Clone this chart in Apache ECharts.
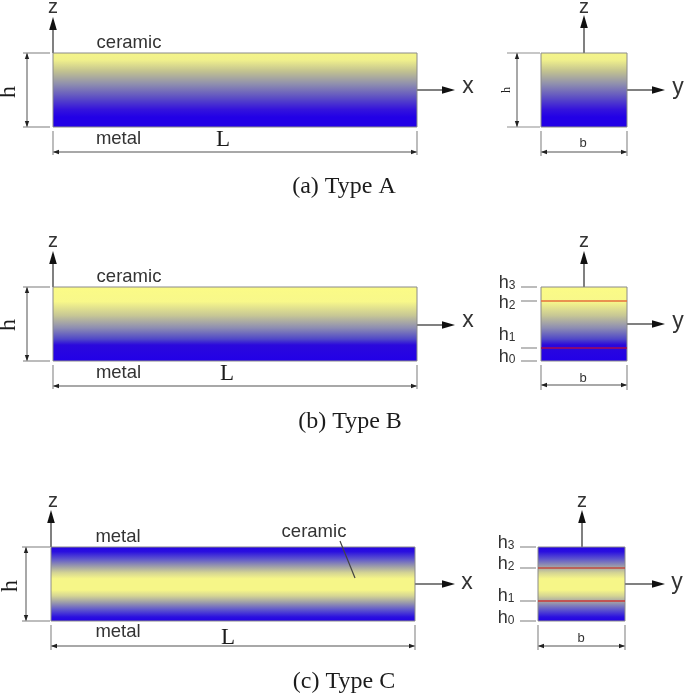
<!DOCTYPE html>
<html><head><meta charset="utf-8">
<style>html,body{margin:0;padding:0;background:#fff}#c{width:685px;height:695px;filter:blur(0.7px)}</style>
<script src="https://cdn.jsdelivr.net/npm/echarts@6/dist/echarts.min.js"></script>
</head><body><div id="c"></div>
<script>
// Diagram coordinates: x1, x2, y1, y2, gradient name
var sections = [
  [53,417,53,127,'A'],[541,627,53,127,'A'],
  [53,417,287,361,'B'],[541,627,287,361,'B'],
  [51,415,547,621,'C'],[538,625,547,621,'C']
];
var gradients = {
  A: [[0,'#f5f58a'],[0.1,'#f0f08c'],[0.25,'#c2c290'],[0.42,'#8f8fae'],[0.6,'#5d4fc4'],[0.76,'#3413dc'],[0.86,'#2200e6'],[1,'#2200e6']],
  B: [[0,'#fbfb86'],[0.2,'#f8f88a'],[0.38,'#c9c994'],[0.55,'#8e8eb2'],[0.7,'#5048c8'],[0.78,'#2a08dc'],[1,'#2200e8']],
  C: [[0,'#2200e6'],[0.07,'#2a10e0'],[0.17,'#6058cc'],[0.27,'#a0a0a8'],[0.35,'#d4d494'],[0.43,'#f6f688'],[0.58,'#f6f688'],[0.66,'#d4d494'],[0.74,'#a0a0a8'],[0.84,'#6058cc'],[0.94,'#2a10e0'],[1,'#2200e6']]
};
var thinLines = [
  [23,53,50,53],[23,127,50,127],[53,131,53,155],[417,131,417,155],
  [507,53,540,53],[507,127,540,127],[541,131,541,156],[627,131,627,156],
  [23,287,50,287],[23,361,50,361],[53,365,53,389],[417,365,417,389],
  [521,287,537,287],[521,301,537,301],[521,348,537,348],[521,361,537,361],[541,365,541,390],[627,365,627,390],
  [22,547,50,547],[22,621,50,621],[51,625,51,650],[415,625,415,650],
  [520,547,536,547],[520,568,536,568],[520,601,536,601],[520,621,536,621],[538,625,538,650],[625,625,625,650]
];
var leaderLines = [[340,541,355,578]];
var redLines = [
  [541,301,627,301,'#e4703c'],[541,348,627,348,'#a80c50'],
  [538,568,625,568,'#c04a40'],[538,601,625,601,'#c83838']
];
var axisArrows = [
  [53,53,53,17],[417,90,455,90],[584,53,584,15],[627,90,665,90],
  [53,287,53,251],[417,325,455,325],[584,287,584,251],[627,324,665,324],
  [51,547,51,510],[415,584,455,584],[582,547,582,510],[625,584,665,584]
];
var dimArrows = [
  [27,53,27,127],[53,152,417,152],[517,53,517,127],[541,152,627,152],
  [27,287,27,361],[53,386,417,386],[541,385,627,385],
  [26,547,26,621],[51,646,415,646],[538,646,625,646]
];
var labels = [
  ['z',53,7,'s',20],['x',468,87,'s',23],['z',584,7,'s',20],['y',678,88,'s',23],
  ['ceramic',129,43,'s',18.5],['metal',118.5,139,'s',18.5],['L',223,140,'t',23],['h',9,92,'r',24],
  ['h',507,90,'r',12],['b',583,143,'s',13],['(a) Type A',344,187,'t',24],
  ['z',53,241,'s',20],['x',468,321,'s',23],['z',584,241,'s',20],['y',678,322,'s',23],
  ['ceramic',129,277,'s',18.5],['metal',118.5,373,'s',18.5],['L',227,374,'t',23],['h',9,325,'r',24],
  ['b',583,378,'s',13],['(b) Type B',350,422,'t',24],
  ['z',53,501,'s',20],['x',467,583,'s',23],['z',582,501,'s',20],['y',677,583,'s',23],
  ['metal',118,537,'s',18.5],['ceramic',314,532,'s',18.5],['metal',118,632,'s',18.5],['L',228,638,'t',23],['h',11,586,'r',24],
  ['b',581,638,'s',13],['(c) Type C',344,682,'t',24]
];
var subLabels = [
  ['3',507,283],['2',507,303],['1',507,335],['0',507,357],
  ['3',506,543],['2',506,564],['1',506,596],['0',506,618]
];

function lineSeries(data, color, width, z){
  return {type:'custom',coordinateSystem:'cartesian2d',silent:true,clip:false,z:z,data:data,
    renderItem:function(p,api){
      var a=api.coord([api.value(0),api.value(1)]),b=api.coord([api.value(2),api.value(3)]);
      return {type:'line',shape:{x1:a[0],y1:a[1],x2:b[0],y2:b[1]},style:{stroke:data[p.dataIndex][4]||color,lineWidth:width}};
    }};
}
function head(tip,dx,dy,len,w,color){
  return {type:'polygon',shape:{points:[[tip[0],tip[1]],[tip[0]-dx*len-dy*w,tip[1]-dy*len-dx*w],[tip[0]-dx*len+dy*w,tip[1]-dy*len+dx*w]]},style:{fill:color}};
}
var series = [
  {type:'custom',coordinateSystem:'cartesian2d',silent:true,clip:false,z:2,data:sections,
   renderItem:function(p,api){
     var a=api.coord([api.value(0),api.value(2)]),b=api.coord([api.value(1),api.value(3)]);
     var g=gradients[sections[p.dataIndex][4]].map(function(s){return {offset:s[0],color:s[1]};});
     return {type:'rect',shape:{x:a[0],y:a[1],width:b[0]-a[0],height:b[1]-a[1]},
       style:{fill:new echarts.graphic.LinearGradient(0,0,0,1,g),stroke:'#8a8a8a',lineWidth:1}};
   }},
  lineSeries(thinLines,'#909090',1.2,1),
  lineSeries(leaderLines,'#444444',1.2,5),
  lineSeries(redLines,'#c04040',1.3,5),
  {type:'custom',coordinateSystem:'cartesian2d',silent:true,clip:false,z:3,data:axisArrows,
   renderItem:function(p,api){
     var a=api.coord([api.value(0),api.value(1)]),b=api.coord([api.value(2),api.value(3)]);
     var d=Math.hypot(b[0]-a[0],b[1]-a[1]),dx=(b[0]-a[0])/d,dy=(b[1]-a[1])/d;
     return {type:'group',children:[
       {type:'line',shape:{x1:a[0],y1:a[1],x2:b[0]-dx*6,y2:b[1]-dy*6},style:{stroke:'#808080',lineWidth:2}},
       head(b,dx,dy,13,3.8,'#111111')]};
   }},
  {type:'custom',coordinateSystem:'cartesian2d',silent:true,clip:false,z:3,data:dimArrows,
   renderItem:function(p,api){
     var a=api.coord([api.value(0),api.value(1)]),b=api.coord([api.value(2),api.value(3)]);
     var d=Math.hypot(b[0]-a[0],b[1]-a[1]);
     var dx=(b[0]-a[0])/d,dy=(b[1]-a[1])/d;
     return {type:'group',children:[
       {type:'line',shape:{x1:a[0],y1:a[1],x2:b[0],y2:b[1]},style:{stroke:'#a8a8a8',lineWidth:2}},
       head(b,dx,dy,6,2.2,'#222222'),head(a,-dx,-dy,6,2.2,'#222222')]};
   }},
  {type:'custom',coordinateSystem:'cartesian2d',silent:true,clip:false,z:6,data:labels.map(function(l){return [l[1],l[2]];}),
   renderItem:function(p,api){
     var l=labels[p.dataIndex],c=api.coord([api.value(0),api.value(1)]);
     var serif=l[3]!=='s',rot=l[3]==='r'?Math.PI/2:0;
     return {type:'text',x:c[0],y:c[1],rotation:rot,
       style:{text:l[0],fontSize:l[4],fontFamily:serif?'Liberation Serif':'Liberation Sans',
         fill:serif?'#1c1c1c':'#333333',align:'center',verticalAlign:'middle'}};
   }},
  {type:'custom',coordinateSystem:'cartesian2d',silent:true,clip:false,z:6,data:subLabels.map(function(l){return [l[1],l[2]];}),
   renderItem:function(p,api){
     var c=api.coord([api.value(0),api.value(1)]);
     return {type:'text',x:c[0],y:c[1],
       style:{text:'{a|h}{b|'+subLabels[p.dataIndex][0]+'}',align:'center',verticalAlign:'middle',
         rich:{a:{fontSize:18,fontFamily:'Liberation Sans',fill:'#333333'},
               b:{fontSize:12,fontFamily:'Liberation Sans',fill:'#333333',verticalAlign:'bottom',padding:[5,0,0,0]}}}};
   }}
];
var chart = echarts.init(document.getElementById('c'),null,{renderer:'canvas'});
chart.setOption({animation:false,backgroundColor:'#ffffff',
  grid:{left:0,right:0,top:0,bottom:0},
  xAxis:{type:'value',min:0,max:685,show:false},
  yAxis:{type:'value',min:0,max:695,inverse:true,show:false},
  series:series});
</script></body></html>
